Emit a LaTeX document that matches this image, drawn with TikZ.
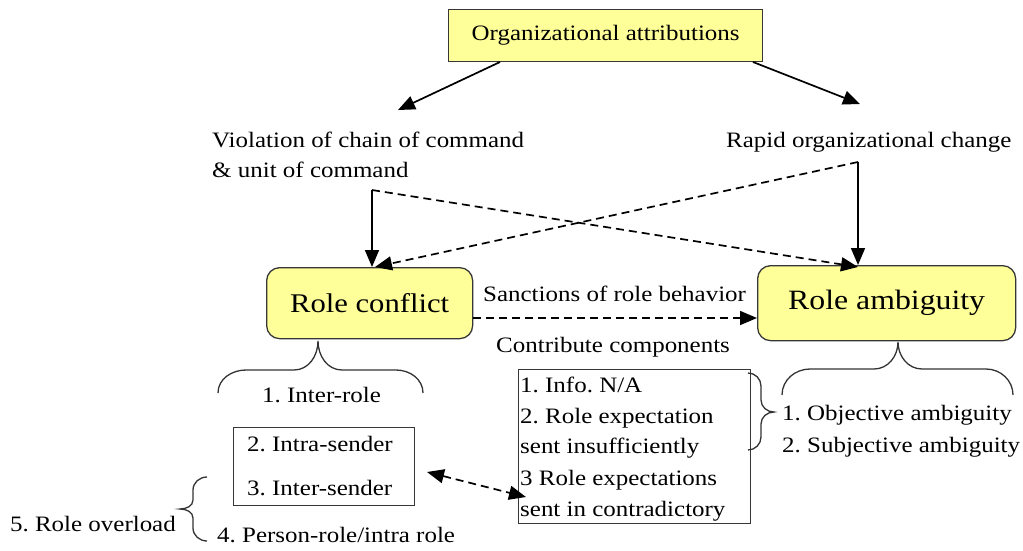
\documentclass[tikz,border=0pt]{standalone}
\usepackage{fontspec}
\setmainfont[FakeStretch=1.135]{Liberation Serif}
\usetikzlibrary{arrows.meta,calc}
\definecolor{boxyellow}{RGB}{255,255,153}
\definecolor{edge}{RGB}{55,55,55}
\newcommand{\txt}{\fontsize{22}{30}\selectfont}
\frenchspacing
\begin{document}
\begin{tikzpicture}[x=1pt,y=-1pt,
  head/.tip={Triangle[length=17pt,width=14pt]},
  tip/.style={-head, line width=1.7pt},
  dtip/.style={tip, dash pattern=on 8pt off 5pt},
  ybox/.style={draw=edge, line width=1.3pt, fill=boxyellow},
  plainbox/.style={draw=edge, line width=1.3pt, inner sep=0pt},
  brace/.style={line width=1.3pt, draw=black!80},
  ln/.style={inner sep=0pt, anchor=base west, font=\txt}]
\useasboundingbox (0,0) rectangle (1023,550);

% top level
\node[ybox, minimum width=314pt, minimum height=52pt, anchor=north west, font=\txt] (top) at (448,9) {Organizational attributions};

\node[ln] (viol) at (212,147) {Violation of chain of command};
\node[ln] (viol2) at (212,177) {\& unit of command};
\node[ln] (rapid) at (726,147) {Rapid organizational change};

\coordinate (t1) at (500,62);
\coordinate (t2) at (753,62);
\coordinate (v1) at (398,110);
\coordinate (r1) at (860,104);
\draw[tip] (t1) -- (v1);
\draw[tip] (t2) -- (r1);

% role boxes
\node[ybox, rounded corners=13pt, minimum width=206pt, minimum height=71pt, anchor=north west, font=\fontsize{27}{30}\selectfont] (rc) at (266,267) {Role conflict};
\node[ybox, rounded corners=13pt, minimum width=258pt, minimum height=75pt, anchor=north west, font=\fontsize{28}{30}\selectfont] (ra) at (757,265) {Role ambiguity};

\coordinate (vc) at (372,190);
\coordinate (rcn) at (858,162);
\draw[tip] (vc) -- (vc |- rc.north);
\draw[tip] (rcn) -- (rcn |- ra.north);
\draw[dtip] (vc) -- ($(rcn |- ra.north)+(0,2)$);
\draw[dtip] (rcn) -- ($(vc |- rc.north)+(3,0)$);

\draw[dtip] (rc.east |- 0,318) -- (ra.west |- 0,318);
\node[ln] (sanc) at (483,301) {Sanctions of role behavior};
\node[ln] (contrib) at (496,352) {Contribute components};

% brace below role conflict
\draw[brace] (218,393) to[out=90,in=180] (246,370) -- (294,370) to[out=0,in=-90] (318,341)
  to[out=-90,in=180] (342,370) -- (396,370) to[out=0,in=90] (423,393);
\node[ln] (inter) at (262,402) {1. Inter-role};

% intra/inter sender box
\node[plainbox, anchor=north west, minimum width=181pt, minimum height=78pt] (send) at (233,427) {};
\node[ln] (intra) at (247,451) {2. Intra-sender};
\node[ln] (inters) at (247,495) {3. Inter-sender};

% role overload brace
\draw[brace] (207,477) to[out=180,in=90] (193,490) -- (193,500) to[out=-90,in=0] (180,509)
  to[out=0,in=90] (193,518) -- (193,528) to[out=-90,in=180] (207,541);
\node[ln, anchor=base east] (over) at (176,531) {5. Role overload};
\node[ln] (person) at (217,542) {4. Person-role/intra role};

% contributing components box
\node[plainbox, anchor=north west, minimum width=232pt, minimum height=154pt] (comp) at (518,369) {};
\node[ln] (c1) at (520,392) {1. Info. N/A};
\node[ln] (c2) at (520,423) {2. Role expectation};
\node[ln] (c3) at (520,453) {sent insufficiently};
\node[ln] (c4) at (520,485) {3 Role expectations};
\node[ln] (c5) at (520,516) {sent in contradictory};

\coordinate (sa) at (427,472);
\coordinate (ca) at (526,497);
\draw[dtip, head-head] (sa) -- (ca);

% brace right of components
\draw[brace] (748,373) to[out=0,in=90] (761,386) -- (761,400) to[out=-90,in=180] (774,412)
  to[out=180,in=90] (761,424) -- (761,437) to[out=-90,in=0] (748,450);
\node[ln] (obj) at (782,420) {1. Objective ambiguity};
\node[ln] (subj) at (782,452) {2. Subjective ambiguity};

% brace below role ambiguity
\draw[brace] (782,395) to[out=90,in=180] (810,369) -- (874,369) to[out=0,in=-90] (898,342)
  to[out=-90,in=180] (922,369) -- (986,369) to[out=0,in=90] (1013,395);
\end{tikzpicture}
\end{document}
